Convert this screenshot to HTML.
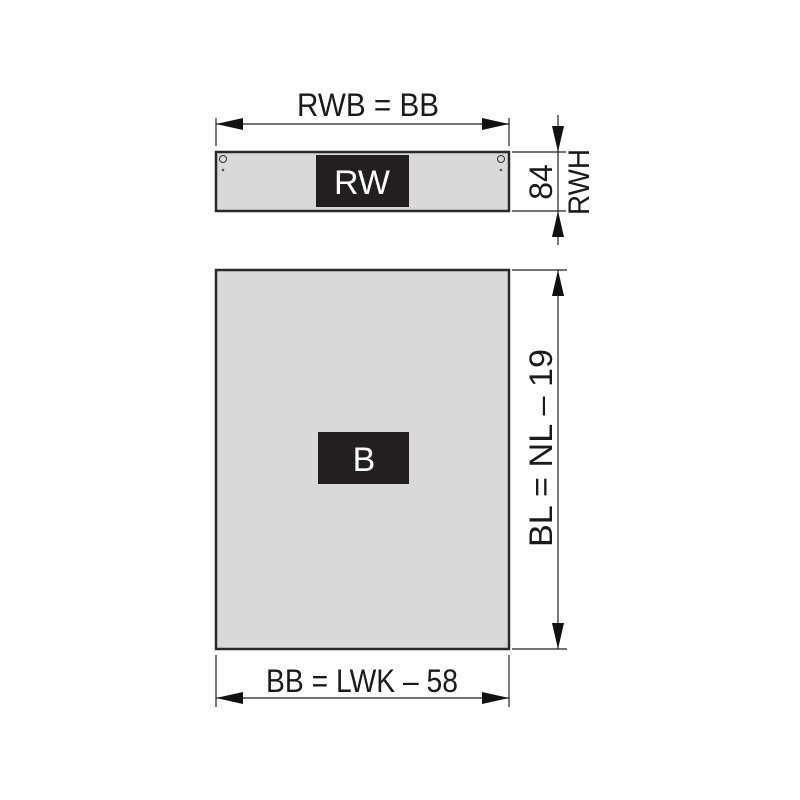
<!DOCTYPE html>
<html><head><meta charset="utf-8"><style>
html,body{margin:0;padding:0;background:#fff;width:800px;height:800px;overflow:hidden}
text{font-family:"Liberation Sans Narrow","Liberation Sans",sans-serif;fill:#1a1a1a}
</style></head><body>
<svg width="800" height="800" viewBox="0 0 800 800" xmlns="http://www.w3.org/2000/svg">
<rect x="216" y="152" width="293" height="59" fill="#d9d9d9" stroke="#2a2a2a" stroke-width="2.5"/>
<circle cx="223" cy="159" r="3.5" fill="none" stroke="#333" stroke-width="1"/>
<circle cx="223" cy="170" r="1.3" fill="#555"/>
<circle cx="501" cy="159" r="3.5" fill="none" stroke="#333" stroke-width="1"/>
<circle cx="501" cy="170" r="1.3" fill="#555"/>
<rect x="316" y="155" width="93" height="52" fill="#231f20"/>
<text x="362" y="194" font-size="34" text-anchor="middle" style="fill:#fff;font-family:'Liberation Sans',sans-serif">RW</text>
<rect x="216" y="270" width="293" height="379" fill="#d9d9d9" stroke="#2a2a2a" stroke-width="2.5"/>
<rect x="318" y="432" width="91" height="52" fill="#231f20"/>
<text x="364" y="471" font-size="34" text-anchor="middle" style="fill:#fff;font-family:'Liberation Sans',sans-serif">B</text>
<g stroke="#222" stroke-width="1.2" fill="none">
<line x1="216" y1="118" x2="216" y2="146"/><line x1="509" y1="118" x2="509" y2="146"/>
<line x1="216" y1="124" x2="509" y2="124"/>
<line x1="512" y1="152" x2="566" y2="152"/><line x1="512" y1="211" x2="566" y2="211"/>
<line x1="558" y1="115" x2="558" y2="245"/>
<line x1="512" y1="270" x2="567" y2="270"/><line x1="512" y1="649" x2="567" y2="649"/>
<line x1="558" y1="270" x2="558" y2="649"/>
<line x1="216" y1="655" x2="216" y2="707"/><line x1="509" y1="655" x2="509" y2="707"/>
<line x1="216" y1="698" x2="509" y2="698"/>
</g>
<g fill="#111">
<polygon points="216,124 243,118 243,130"/><polygon points="509,124 482,118 482,130"/>
<polygon points="558,152 552,126 564,126"/><polygon points="558,211 552,237 564,237"/>
<polygon points="558,270 552,296 564,296"/><polygon points="558,649 552,623 564,623"/>
<polygon points="216,698 243,692 243,704"/><polygon points="509,698 482,692 482,704"/>
</g>
<text x="368" y="116" font-size="32" text-anchor="middle" textLength="142" lengthAdjust="spacingAndGlyphs">RWB = BB</text>
<text x="362" y="692" font-size="32" text-anchor="middle" textLength="192" lengthAdjust="spacingAndGlyphs">BB = LWK – 58</text>
<text transform="translate(552,448) rotate(-90)" font-size="32" text-anchor="middle" textLength="198" lengthAdjust="spacingAndGlyphs">BL = NL – 19</text>
<text transform="translate(552,182) rotate(-90)" font-size="32" text-anchor="middle">84</text>
<text transform="translate(589,182) rotate(-90)" font-size="30" text-anchor="middle" textLength="66" lengthAdjust="spacingAndGlyphs">RWH</text>
</svg>
</body></html>
